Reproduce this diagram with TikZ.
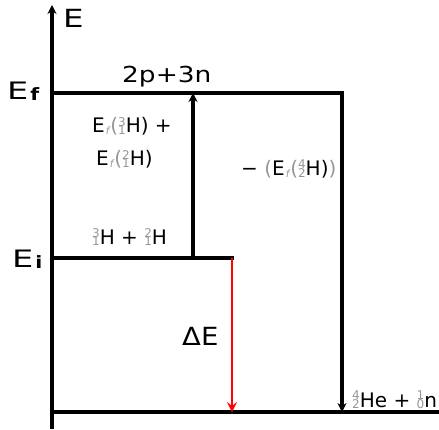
\documentclass[tikz,border=0pt]{standalone}
\usepackage{fontspec}
\setmainfont{DejaVu Sans}
\usetikzlibrary{arrows.meta}
\definecolor{nucgray}{RGB}{150,150,150}
\newcommand\nuc[3]{\raisebox{-1.5pt}{\color{nucgray}\fontsize{12}{12}\selectfont\begin{tabular}[b]{@{}r@{}}#1\\[-4pt]#2\end{tabular}}#3}
\newcommand\Ef{E\hspace{1pt}{\color{nucgray}\fontsize{10}{10}\selectfont\itshape\raisebox{-1.5pt}{f}}\hspace{1pt}}
\newcommand\gp{{\color{nucgray}(}}
\newcommand\wide[2]{\scalebox{#1}[1]{#2}}
\begin{document}
\begin{tikzpicture}[x=1pt,y=1pt,
  level/.style={line width=3.2pt, line cap=rect},
  up/.style={line width=3.2pt, -{Stealth[length=9pt,width=9pt,inset=3pt]}},
  red/.style={draw=red, line width=2.2pt, -{Stealth[length=10pt,width=10pt,inset=4pt]}},
  lbl/.style={anchor=base west, inner sep=0pt, font=\fontsize{20}{22}\selectfont},
  big/.style={anchor=base west, inner sep=0pt, font=\fontsize{24}{26}\selectfont}]
\useasboundingbox (0,0) rectangle (439,429);
\coordinate (ax0) at (52,0);
\coordinate (axtop) at (52,424);
\coordinate (b0) at (52,17);
\coordinate (b1) at (439,17);
\coordinate (i0) at (52,171);
\coordinate (i1) at (232,171);
\coordinate (f0) at (52,336);
\coordinate (f1) at (342,336);
\coordinate (fb) at (342,17);
\coordinate (u0) at (193,171);
\coordinate (u1) at (193,336);
\coordinate (rb) at (232,17);
\draw[up] (ax0) -- (axtop);
\draw[level] (b0) -- (b1);
\draw[level] (i0) -- (i1);
\draw[level] (f0) -- (f1);
\draw[up] (f1) -- (fb);
\draw[up] (u0) -- (u1);
\draw[red] (i1) -- (rb);
\node[big, font=\fontsize{25}{27}\selectfont] (lE) at (63,401) {\wide{1.3}{E}};
\node[big] (lEf) at (7,329) {\wide{1.4}{E}\hspace{2pt}\raisebox{-1pt}{\fontsize{17}{17}\selectfont\bfseries\wide{1.2}{f}}};
\node[big] (lEi) at (12,162) {\wide{1.4}{E}\hspace{2pt}\raisebox{-1pt}{\fontsize{17}{17}\selectfont\bfseries\wide{1.2}{i}}};
\node[lbl, font=\fontsize{22}{24}\selectfont] (n23) at (122,346) {\wide{1.2}{2p+3n}};
\node[lbl] (h1) at (92,296) {\Ef\gp\nuc{3}{1}{H}) +};
\node[lbl] (h2) at (96,263) {\Ef\gp\nuc{2}{1}{H})};
\node[lbl] (he) at (241,253) {− \gp\Ef\gp\nuc{4}{2}{H}){\color{nucgray})}};
\node[lbl] (init) at (92,185) {\nuc{3}{1}{H} + \nuc{2}{1}{H}};
\node[big, font=\fontsize{25}{27}\selectfont] (dE) at (182,84) {\wide{1.1}{ΔE}};
\node[lbl] (fin) at (352,22) {\nuc{4}{2}{He} + \nuc{1}{0}{n}};
\end{tikzpicture}
\end{document}
